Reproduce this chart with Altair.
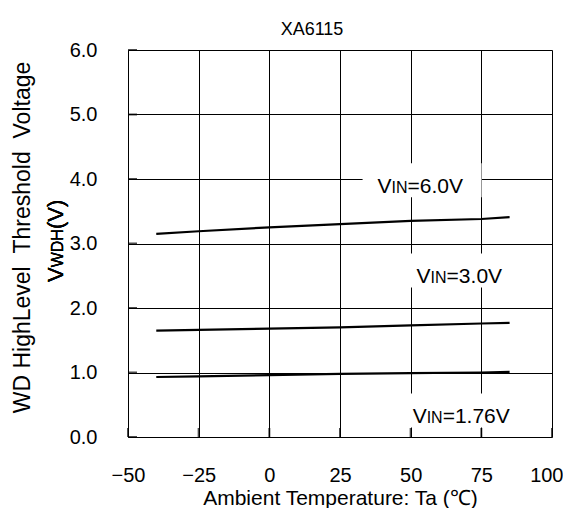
import altair as alt
import pandas as pd

# ---- data ----
temps = [-40, -25, 0, 25, 50, 75, 85]
v_6_0 = [3.15, 3.19, 3.25, 3.30, 3.35, 3.38, 3.41]
v_3_0 = [1.65, 1.66, 1.68, 1.70, 1.73, 1.76, 1.77]
v_1_76 = [0.93, 0.94, 0.96, 0.98, 0.99, 1.00, 1.01]

series_names = ["6.0V", "3.0V", "1.76V"]

label_x = [38.3, 52.1, 50.7]
label_y = [3.78, 2.38, 0.21]
label_rest = ["=6.0V", "=3.0V", "=1.76V"]

x_ticks = [-50, -25, 0, 25, 50, 75, 100]
y_ticks = [0, 1, 2, 3, 4, 5, 6]

FONT = "Liberation Sans"
W, H = 424, 387

rows = []
for name, vals in zip(series_names, [v_6_0, v_3_0, v_1_76]):
    for t, v in zip(temps, vals):
        rows.append({"series": name, "ta": t, "v": v})
df = pd.DataFrame(rows)
lbl = pd.DataFrame({"ta": label_x, "v": label_y, "rest": label_rest})
xt = pd.DataFrame({"ta": x_ticks})
yt = pd.DataFrame({"v": y_ticks})

xscale = alt.Scale(domain=[-50, 100], nice=False, zero=False)
yscale = alt.Scale(domain=[0, 6], nice=False, zero=False)

xaxis = alt.Axis(
    values=x_ticks, ticks=False, domain=False, grid=True,
    gridColor="black", gridWidth=1, gridOpacity=1,
    labelFont=FONT, labelFontSize=20, labelColor="black", labelPadding=28,
    labelAlign=alt.ConditionalAxisLabelAlign(
        condition={"test": "datum.value == 100", "value": "right"},
        value="center"),
    labelOffset=alt.ConditionalAxisNumber(
        condition={"test": "datum.value == 100", "value": 11},
        value=0),
    title="Ambient Temperature: Ta (℃)", titleFont=FONT, titleFontSize=21,
    titleFontWeight="normal", titleColor="black",
    titleY=61, titleBaseline="middle", labelFlush=False,
)
yaxis = alt.Axis(
    values=y_ticks, ticks=False, domain=False, grid=True, format=".1f",
    gridColor="black", gridWidth=1, gridOpacity=1,
    labelFont=FONT, labelFontSize=20, labelColor="black", labelPadding=31,
    title="WD HighLevel\u00a0\u00a0Threshold\u00a0\u00a0Voltage",
    titleFont=FONT, titleFontSize=23, titleFontWeight="normal",
    titleColor="black", titleX=-106, titleY=187, titleBaseline="middle",
    titleAlign="center", titleAngle=270, labelFlush=False,
)

X = alt.X("ta:Q", scale=xscale, axis=xaxis)
Y = alt.Y("v:Q", scale=yscale, axis=yaxis)

lines = alt.Chart(df).mark_line(color="black", strokeWidth=2.2).encode(
    x=X, y=Y, detail="series:N"
)

boxes = alt.Chart(lbl).mark_rect(
    color="white", xOffset=-15, x2Offset=104, yOffset=-30, y2Offset=4
).encode(x=X, x2="ta:Q", y=Y, y2="v:Q")

txt_common = dict(align="left", baseline="alphabetic", font=FONT, color="black")
t_v = alt.Chart(lbl).mark_text(fontSize=21, **txt_common).encode(
    x=X, y=Y, text=alt.value("V"))
t_in = alt.Chart(lbl).mark_text(fontSize=16, dx=14, **txt_common).encode(
    x=X, y=Y, text=alt.value("IN"))
t_rest = alt.Chart(lbl).mark_text(fontSize=21, dx=30, **txt_common).encode(
    x=X, y=Y, text="rest:N")

xticks_in = alt.Chart(xt).mark_tick(color="black", thickness=2, size=9).encode(
    x=X, y=alt.value(H - 4.5))
yticks_in = alt.Chart(yt).mark_tick(color="black", thickness=2, size=9).encode(
    y=Y, x=alt.value(4.5))

# second line of the y title: V + small WDH + (V)
yt2_common = dict(align="left", baseline="alphabetic", font=FONT,
                  color="black", angle=270)
yl_v = alt.Chart(lbl).mark_text(fontSize=22, **yt2_common).encode(
    x=alt.value(-65), y=alt.value(232), text=alt.value("V"))
yl_s = alt.Chart(lbl).mark_text(fontSize=16, **yt2_common).encode(
    x=alt.value(-65), y=alt.value(217.3), text=alt.value("WDH"))
yl_p = alt.Chart(lbl).mark_text(fontSize=22, **yt2_common).encode(
    x=alt.value(-65), y=alt.value(179.1), text=alt.value("(V)"))

chart = alt.layer(
    boxes, lines, xticks_in, yticks_in, t_v, t_in, t_rest, yl_v, yl_s, yl_p
).properties(
    width=W, height=H,
    padding={"left": 120, "top": 42, "right": 11, "bottom": 71},
    autosize=alt.AutoSizeParams(type="none"),
    title=alt.TitleParams(
        "XA6115", font=FONT, fontSize=18, fontWeight="normal", color="black",
        anchor="middle", dx=-28, offset=1,
    ),
).configure_view(
    stroke="black", strokeWidth=2
).configure(background="white")

chart.save("out.html", embed_options={"renderer": "svg", "actions": False})
